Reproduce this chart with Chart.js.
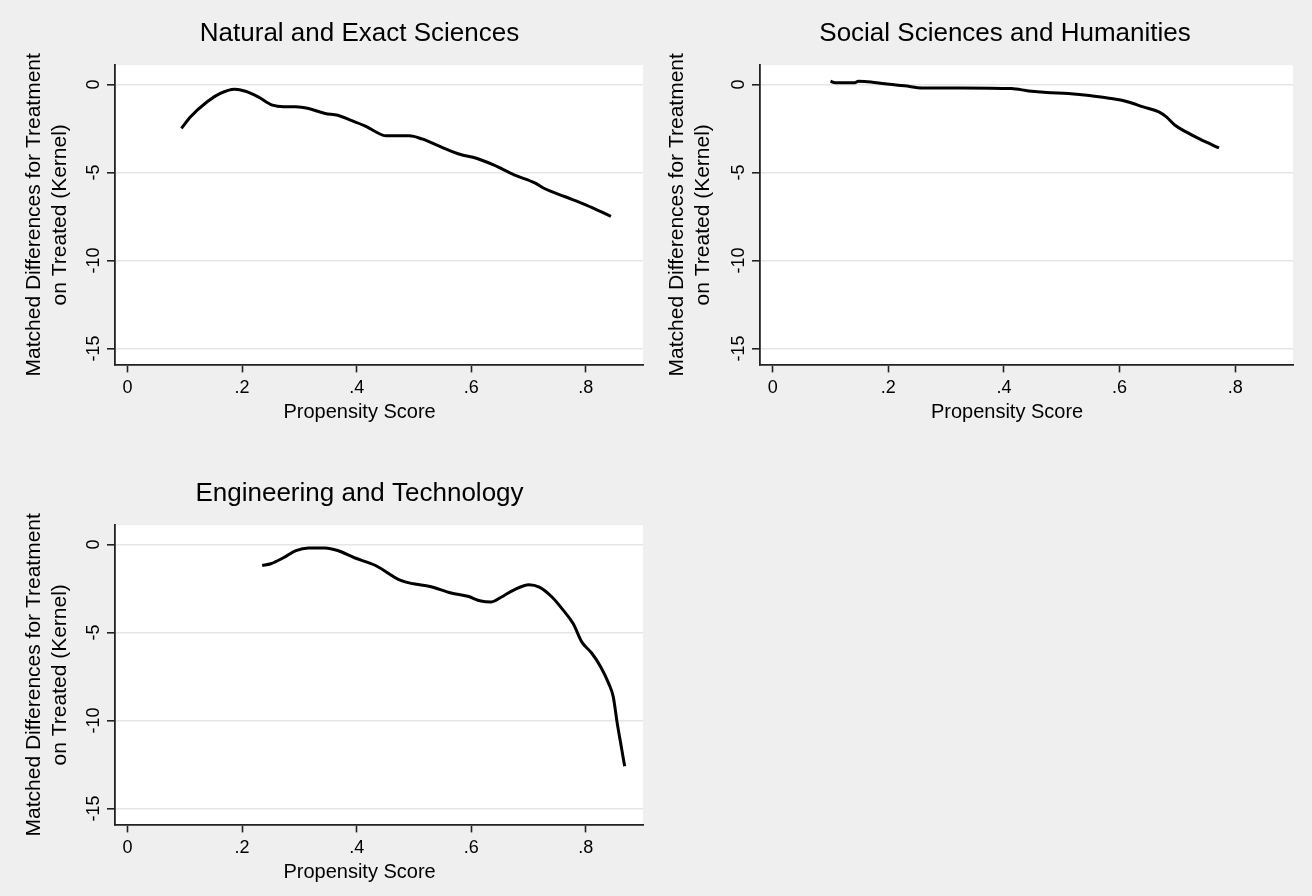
<!DOCTYPE html>
<html>
<head>
<meta charset="utf-8">
<script src="https://cdn.jsdelivr.net/npm/chart.js@4/dist/chart.umd.min.js"></script>
<style>
  html, body { margin: 0; padding: 0; background: #efefef; }
  body { width: 1312px; height: 896px; position: relative; overflow: hidden; }
  canvas { position: absolute; }
</style>
</head>
<body>
<canvas id="c1" width="646" height="436" style="left:0px;top:0px;"></canvas>
<canvas id="c2" width="666" height="436" style="left:646px;top:0px;"></canvas>
<canvas id="c3" width="646" height="436" style="left:0px;top:460px;"></canvas>
<script>
// ---- Data ----
const panelTitles = ["Natural and Exact Sciences", "Social Sciences and Humanities", "Engineering and Technology"];
const xAxisTitle = "Propensity Score";
const yAxisTitle = ["Matched Differences for Treatment", "on Treated (Kernel)"];

const xTickValues = [0, 0.2, 0.4, 0.6, 0.8];
const xTickLabels = ["0", ".2", ".4", ".6", ".8"];
const yTickValues = [-15, -10, -5, 0];
const yTickLabels = ["-15", "-10", "-5", "0"];

const natX = [0.094,0.110,0.139,0.161,0.187,0.206,0.228,0.253,0.272,0.294,0.316,0.345,0.367,0.389,0.418,0.433,0.451,0.492,0.514,0.550,0.580,0.609,0.639,0.675,0.712,0.727,0.763,0.800,0.844];
const natY = [-2.49,-1.83,-0.98,-0.51,-0.26,-0.38,-0.70,-1.17,-1.26,-1.26,-1.36,-1.64,-1.74,-2.02,-2.40,-2.68,-2.91,-2.91,-3.09,-3.58,-3.96,-4.19,-4.57,-5.13,-5.60,-5.89,-6.36,-6.83,-7.49];

const socX = [0.100,0.108,0.142,0.148,0.170,0.194,0.228,0.259,0.327,0.413,0.443,0.474,0.511,0.548,0.579,0.604,0.622,0.641,0.668,0.681,0.696,0.715,0.739,0.772];
const socY = [0.19,0.10,0.10,0.19,0.15,0.04,-0.07,-0.19,-0.19,-0.23,-0.36,-0.45,-0.51,-0.62,-0.76,-0.89,-1.06,-1.27,-1.55,-1.84,-2.31,-2.69,-3.10,-3.60];

const engX = [0.235,0.250,0.272,0.294,0.316,0.345,0.367,0.396,0.433,0.477,0.499,0.528,0.565,0.594,0.617,0.635,0.653,0.675,0.701,0.719,0.741,0.760,0.778,0.793,0.811,0.826,0.840,0.848,0.855,0.862,0.868];
const engY = [-1.19,-1.09,-0.75,-0.34,-0.19,-0.19,-0.34,-0.75,-1.19,-2.04,-2.23,-2.38,-2.75,-2.94,-3.21,-3.26,-2.98,-2.57,-2.28,-2.42,-2.98,-3.70,-4.49,-5.53,-6.19,-6.94,-7.89,-8.64,-10.15,-11.47,-12.60];

// ---- Rendering ----
const FONT = "'Liberation Sans', Arial, Helvetica, sans-serif";

const plotBg = {
  id: 'plotBg',
  beforeDraw(chart) {
    const {ctx, chartArea: a} = chart;
    ctx.save();
    ctx.fillStyle = '#ffffff';
    ctx.fillRect(a.left, a.top, a.right - a.left, a.bottom - a.top);
    ctx.restore();
  }
};

function labelFor(values, labels, v) {
  for (let i = 0; i < values.length; i++) {
    if (Math.abs(values[i] - v) < 1e-9) return labels[i];
  }
  return '';
}

function makeChart(id, title, xs, ys, lay) {
  const ctx = document.getElementById(id).getContext('2d');
  return new Chart(ctx, {
    type: 'scatter',
    data: {
      datasets: [{
        data: xs.map((x, i) => ({x: x, y: ys[i]})),
        showLine: true,
        borderColor: '#000000',
        borderWidth: 3,
        pointRadius: 0,
        cubicInterpolationMode: 'monotone',
        fill: false
      }]
    },
    options: {
      responsive: false,
      animation: false,
      devicePixelRatio: 1,
      layout: { padding: { left: lay.padL, right: lay.padR, top: 0, bottom: 0 } },
      plugins: {
        legend: { display: false },
        tooltip: { enabled: false },
        title: {
          display: true,
          text: title,
          color: '#000000',
          font: { family: FONT, size: 26, weight: 'normal', lineHeight: 1.2 },
          padding: { top: 18, bottom: 16 }
        }
      },
      scales: {
        x: {
          type: 'linear',
          min: -0.022,
          max: 0.9,
          afterBuildTicks: (s) => { s.ticks = xTickValues.map(v => ({value: v})); },
          grid: { display: true, drawOnChartArea: false, drawTicks: true, tickLength: 8, tickColor: '#222222', tickWidth: 1.6 },
          border: { display: true, color: '#222222', width: 1.8 },
          ticks: {
            color: '#000000', padding: 5, maxRotation: 0, autoSkip: false,
            font: { family: FONT, size: 18, lineHeight: 1.2 },
            callback: (v) => labelFor(xTickValues, xTickLabels, v)
          },
          title: {
            display: true, text: xAxisTitle + "       ", color: '#000000',
            font: { family: FONT, size: 20, lineHeight: 1.2 },
            padding: { top: -4, bottom: 12 }
          }
        },
        y: {
          type: 'linear',
          min: -15.9,
          max: 1.1,
          afterBuildTicks: (s) => { s.ticks = yTickValues.map(v => ({value: v})); },
          grid: { display: true, drawOnChartArea: true, drawTicks: true, tickLength: 8, color: '#e6e6e6', lineWidth: 1.6, tickColor: '#222222', tickWidth: 1.6 },
          border: { display: true, color: '#222222', width: 1.8 },
          ticks: {
            color: '#000000', padding: 0, minRotation: 90, maxRotation: 90, crossAlign: 'center', autoSkip: false,
            font: { family: FONT, size: 18, lineHeight: 1.2 },
            callback: (v) => labelFor(yTickValues, yTickLabels, v)
          },
          title: {
            display: true, text: yAxisTitle, color: '#000000',
            font: { family: FONT, size: 21, lineHeight: 1.24 },
            padding: { top: lay.ytTop, bottom: lay.ytBottom }
          }
        }
      }
    },
    plugins: [plotBg]
  });
}

makeChart('c1', panelTitles[0], natX, natY, { padL: 76, padR: 3, ytTop: -55, ytBottom: 12.3 });
makeChart('c2', panelTitles[1], socX, socY, { padL: 71, padR: 19, ytTop: -52.5, ytBottom: 13.8 });
makeChart('c3', panelTitles[2], engX, engY, { padL: 76, padR: 3, ytTop: -55, ytBottom: 12.3 });
</script>
</body>
</html>
